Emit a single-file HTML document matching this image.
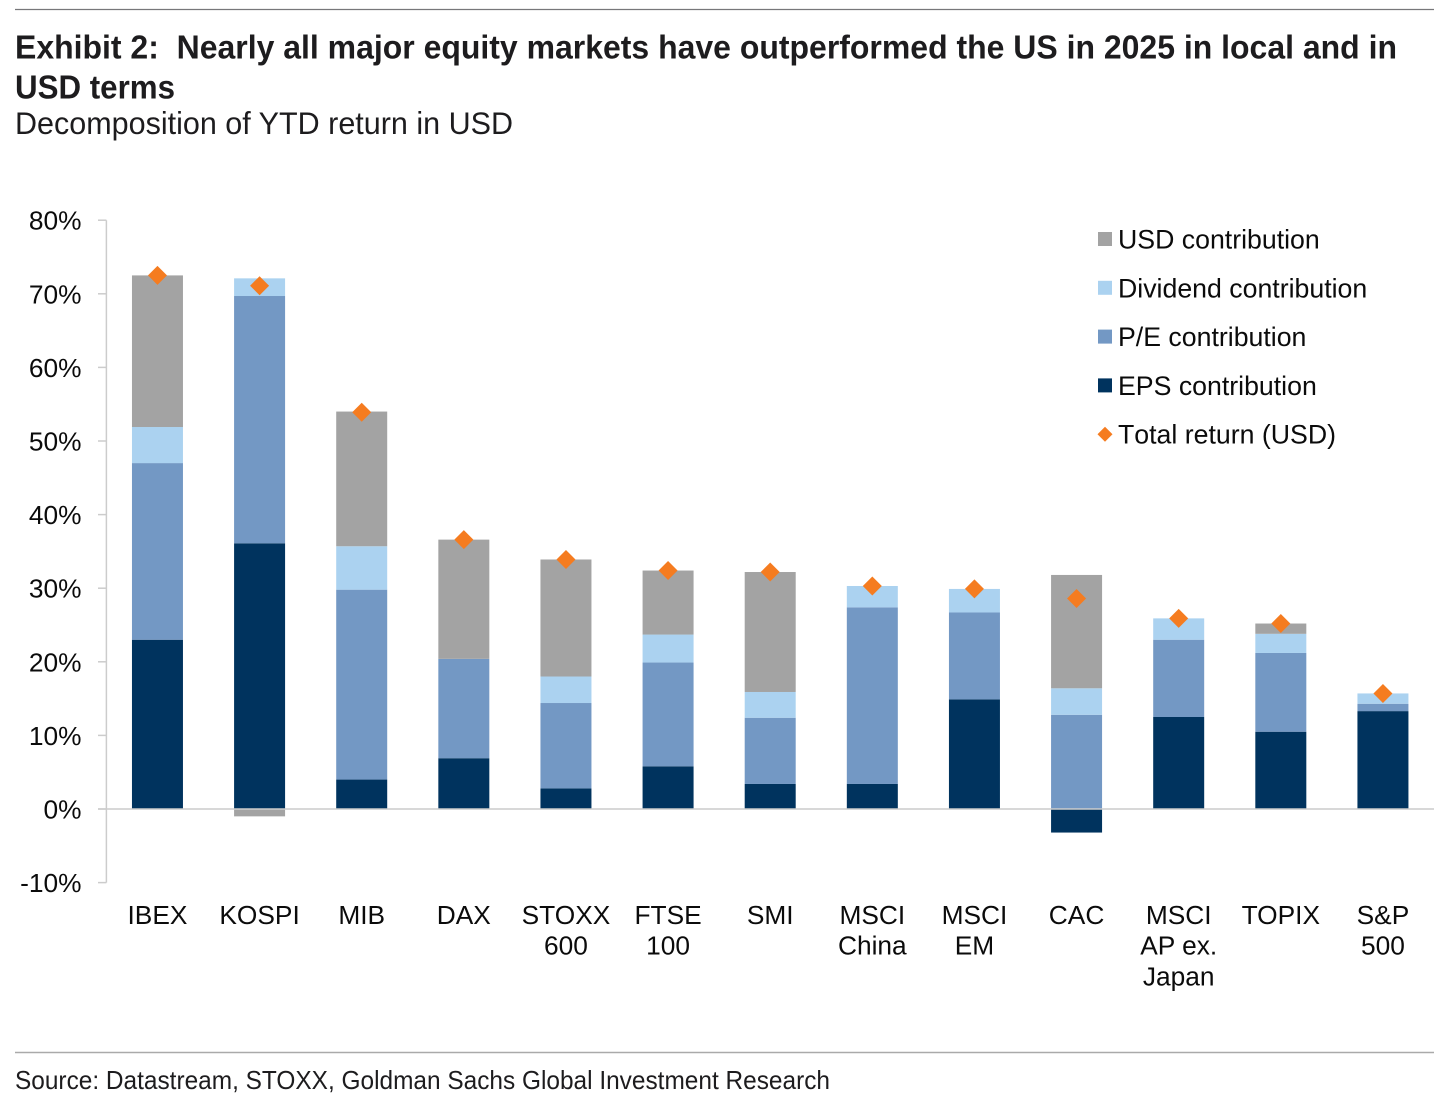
<!DOCTYPE html>
<html lang="en">
<head>
<meta charset="utf-8">
<title>Exhibit 2: Decomposition of YTD return in USD</title>
<style>
  html, body { margin: 0; padding: 0; background: #fff; }
  body { width: 1456px; height: 1104px; overflow: hidden; }
  svg { display: block; }
  text { font-family: "Liberation Sans", Arial, sans-serif; white-space: pre; }
  .heading { fill: #1d1c1e; }
  .axis-text { fill: #0b0b0b; font-size: 26.3px; }
  .legend-text { fill: #0b0b0b; font-size: 26.7px; font-kerning: none; }
</style>
</head>
<body>
<svg id="chart" xmlns="http://www.w3.org/2000/svg" width="1456" height="1104" viewBox="0 0 1456 1104">
  <rect x="0" y="0" width="1456" height="1104" fill="#ffffff"/>
  <line x1="15" x2="1434" y1="9.5" y2="9.5" stroke="#77777a" stroke-width="1.3"/>
  <text class="heading" x="15" y="58.5" font-size="33" font-weight="700" textLength="1382" lengthAdjust="spacingAndGlyphs">Exhibit 2:  Nearly all major equity markets have outperformed the US in 2025 in local and in</text>
  <text class="heading" x="15" y="98.5" font-size="33" font-weight="700" textLength="160" lengthAdjust="spacingAndGlyphs">USD terms</text>
  <text class="heading" x="15" y="134" font-size="31.5" textLength="498" lengthAdjust="spacingAndGlyphs">Decomposition of YTD return in USD</text>
  <g id="plot"></g>
  <g id="legend"></g>
  <line x1="15" x2="1434" y1="1052.5" y2="1052.5" stroke="#aaaaaa" stroke-width="1.5"/>
  <text class="heading" x="15" y="1089" font-size="26" textLength="815" lengthAdjust="spacingAndGlyphs">Source: Datastream, STOXX, Goldman Sachs Global Investment Research</text>
</svg>
<script>
const categories = [
  ["IBEX"], ["KOSPI"], ["MIB"], ["DAX"], ["STOXX", "600"], ["FTSE", "100"], ["SMI"],
  ["MSCI", "China"], ["MSCI", "EM"], ["CAC"], ["MSCI", "AP ex.", "Japan"], ["TOPIX"], ["S&P", "500"]
];
const epsContribution = [23.0, 36.1, 4.0, 6.9, 2.8, 5.8, 3.4, 3.4, 14.9, -3.2, 12.5, 10.5, 13.3];
const peContribution = [24.0, 33.6, 25.8, 13.5, 11.6, 14.1, 9.0, 24.0, 11.8, 12.8, 10.5, 10.7, 1.0];
const dividendContribution = [4.9, 2.4, 5.9, 0, 3.6, 3.8, 3.5, 2.9, 3.2, 3.6, 2.9, 2.6, 1.4];
const usdContribution = [20.6, -1.0, 18.3, 16.2, 15.9, 8.7, 16.3, 0, 0, 15.4, 0, 1.4, 0];
const totalReturn = [72.5, 71.1, 53.9, 36.6, 33.9, 32.4, 32.2, 30.3, 29.9, 28.6, 25.9, 25.2, 15.7];
const yTicks = [-10, 0, 10, 20, 30, 40, 50, 60, 70, 80];
const legendLabels = ["USD contribution", "Dividend contribution", "P/E contribution", "EPS contribution", "Total return (USD)"];

const NS = "http://www.w3.org/2000/svg";
const plot = document.getElementById("plot");
const legend = document.getElementById("legend");
const COLORS = { eps: "#00335e", pe: "#7398c4", div: "#abd2f0", usd: "#a3a3a3", total: "#f57c20", axis: "#cccccc" };

const plotLeft = 106.4;
const plotRight = 1434;
const zeroY = 809;
const pxPerPoint = 7.36;
const barWidth = 51;

function yScale(v) { return zeroY - v * pxPerPoint; }
function xCenter(i) { return plotLeft + (plotRight - plotLeft) * (i + 0.5) / categories.length; }
function make(tag, attrs, parent) {
  const el = document.createElementNS(NS, tag);
  for (const k in attrs) el.setAttribute(k, attrs[k]);
  parent.appendChild(el);
  return el;
}
function diamondPoints(cx, cy, r) {
  return [cx, cy - r, cx + r, cy, cx, cy + r, cx - r, cy].join(" ");
}

// Y axis
const yAxis = make("line", { x1: plotLeft, x2: plotLeft, y1: yScale(80), y2: yScale(-10), stroke: COLORS.axis, "stroke-width": 1.5 }, plot);



yTicks.forEach(function (v) {
  const tick = make("line", { x1: 98, x2: plotLeft, y1: yScale(v), y2: yScale(v), stroke: COLORS.axis, "stroke-width": 1.5 }, plot);
  
  
  const label = make("text", { x: 81.5, y: yScale(v) + 9.5, "text-anchor": "end", class: "axis-text" }, plot);
  
  
  label.textContent = v + "%";
});

// Stacked bars
const stackOrder = [
  { key: "eps", name: "eps", values: epsContribution },
  { key: "pe", name: "pe", values: peContribution },
  { key: "div", name: "dividend", values: dividendContribution },
  { key: "usd", name: "usd", values: usdContribution }
];
categories.forEach(function (cat, i) {
  let pos = 0, neg = 0;
  stackOrder.forEach(function (s) {
    const v = s.values[i];
    if (!v) return;
    const start = v > 0 ? pos : neg;
    const end = start + v;
    if (v > 0) pos = end; else neg = end;
    const top = yScale(Math.max(start, end));
    const bottom = yScale(Math.min(start, end));
    const bar = make("rect", { x: xCenter(i) - barWidth / 2, y: top, width: barWidth, height: bottom - top, fill: COLORS[s.key] }, plot);
    
    
  });
});

// Zero line (drawn above bars)
const zeroLine = make("line", { x1: 98, x2: plotRight, y1: zeroY, y2: zeroY, stroke: COLORS.axis, "stroke-width": 1.5 }, plot);



// Total return markers
totalReturn.forEach(function (v, i) {
  const marker = make("polygon", { points: diamondPoints(xCenter(i), yScale(v), 9.5), fill: COLORS.total }, plot);
  
  
});

// Category labels
categories.forEach(function (lines, i) {
  const label = make("text", { "text-anchor": "middle", class: "axis-text" }, plot);
  
  
  lines.forEach(function (line, j) {
    const span = make("tspan", { x: xCenter(i), y: 924 + j * 30.7 }, label);
    span.textContent = line;
  });
});

// Legend
const legendSwatchColors = [COLORS.usd, COLORS.div, COLORS.pe, COLORS.eps, COLORS.total];
legendLabels.forEach(function (text, i) {
  const cy = 239 + i * 48.8;
  if (i < 4) {
    const swatch = make("rect", { x: 1098, y: cy - 7, width: 14, height: 14, fill: legendSwatchColors[i] }, legend);
    
    
  } else {
    const swatch = make("polygon", { points: diamondPoints(1105, cy, 7.5), fill: legendSwatchColors[i] }, legend);
    
    
  }
  const label = make("text", { x: 1118, y: cy + 9.5, class: "legend-text" }, legend);
  
  
  label.textContent = text;
});
</script>
</body>
</html>
